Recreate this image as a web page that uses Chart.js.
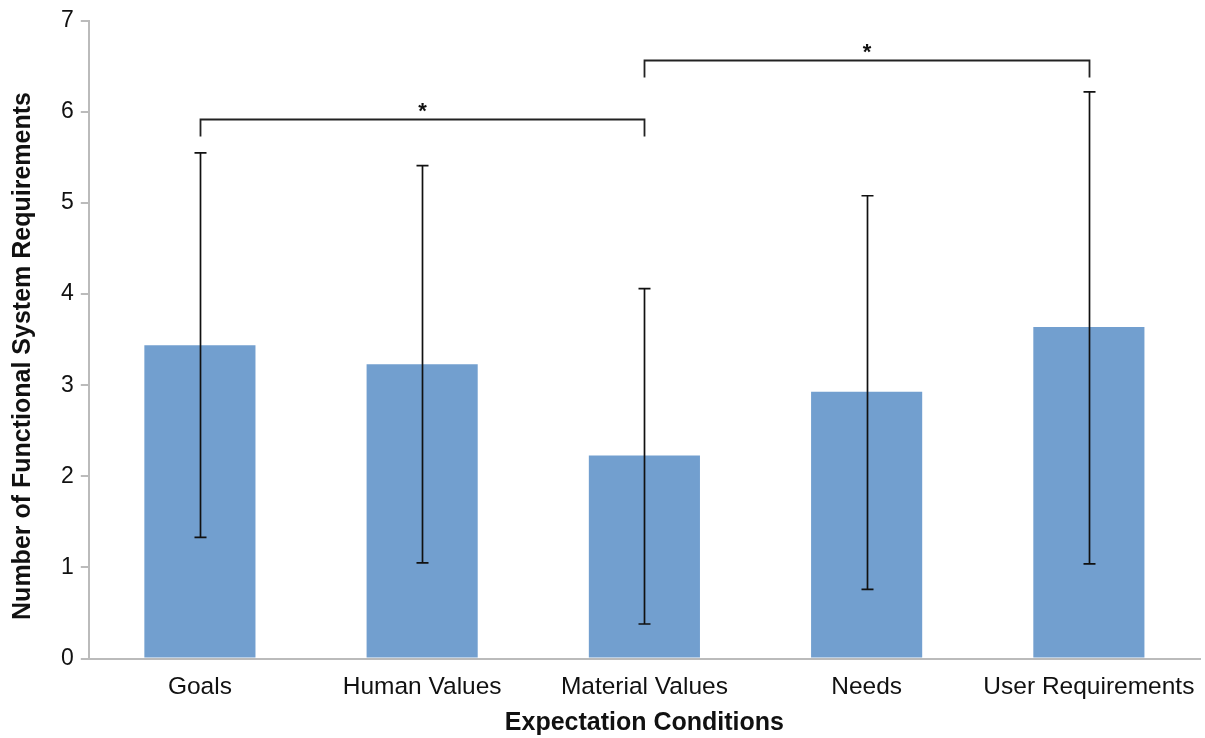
<!DOCTYPE html>
<html>
<head>
<meta charset="utf-8">
<script src="https://cdn.jsdelivr.net/npm/chart.js@4"></script>
<style>
  html, body { margin: 0; padding: 0; background: #fff; }
  #wrap { width: 1205px; height: 738px; }
</style>
</head>
<body>
<div id="wrap"><canvas id="myBarChart"></canvas></div>
<script>
// data
const categories = ['Goals', 'Human Values', 'Material Values', 'Needs', 'User Requirements'];
const means = [3.44, 3.23, 2.23, 2.93, 3.64];
const errHigh = [5.55, 5.41, 4.06, 5.08, 6.22];
const errLow = [1.33, 1.05, 0.38, 0.76, 1.04];
const yTicks = [0, 1, 2, 3, 4, 5, 6, 7];
// significance brackets: [from index, to index, height]
const brackets = [
    [0, 2, 5.92],
    [2, 4, 6.57]
];
const yTitle = 'Number of Functional System Requirements';

const FONT = 'Liberation Sans, Arial, sans-serif';

// error bars + brackets drawn on top of the bars
const errorBarsPlugin = {
    id: 'errorBars',
    afterDatasetsDraw(chart) {
        const { ctx, scales: { x, y } } = chart;
        ctx.save();
        ctx.strokeStyle = '#111';
        ctx.lineWidth = 1.7;
        means.forEach((m, i) => {
            const cx = Math.round(x.getPixelForValue(i)) + 0.5;
            const top = y.getPixelForValue(errHigh[i]);
            const bot = y.getPixelForValue(errLow[i]);
            ctx.beginPath();
            ctx.moveTo(cx, top);
            ctx.lineTo(cx, bot);
            ctx.moveTo(cx - 6, top);
            ctx.lineTo(cx + 6, top);
            ctx.moveTo(cx - 6, bot);
            ctx.lineTo(cx + 6, bot);
            ctx.stroke();
        });

        ctx.strokeStyle = '#222';
        ctx.lineWidth = 1.8;
        ctx.fillStyle = '#111';
        ctx.font = 'bold 22px ' + FONT;
        ctx.textAlign = 'center';
        ctx.textBaseline = 'middle';
        brackets.forEach(([a, b, h]) => {
            const x1 = Math.round(x.getPixelForValue(a)) + 0.5;
            const x2 = Math.round(x.getPixelForValue(b)) + 0.5;
            const yy = Math.round(y.getPixelForValue(h)) + 0.5;
            ctx.beginPath();
            ctx.moveTo(x1, yy + 17);
            ctx.lineTo(x1, yy);
            ctx.lineTo(x2, yy);
            ctx.lineTo(x2, yy + 17);
            ctx.stroke();
            ctx.fillText('*', (x1 + x2) / 2, yy - 8);
        });
        ctx.restore();
    },
    // y title sits a bit below the plot centre in the original
    afterDraw(chart) {
        const { ctx } = chart;
        ctx.save();
        ctx.translate(23, 356);
        ctx.rotate(-Math.PI / 2);
        ctx.fillStyle = '#111';
        ctx.font = 'bold 25px ' + FONT;
        ctx.textAlign = 'center';
        ctx.textBaseline = 'middle';
        ctx.fillText(yTitle, 0, 0);
        ctx.restore();
    }
};

const ctx = document.getElementById('myBarChart');
const myBarChart = new Chart(ctx, {
    type: 'bar',
    data: {
        labels: categories,
        datasets: [
            {
                data: means,
                backgroundColor: '#729fcf',
                barPercentage: 0.5,
                categoryPercentage: 1.0,
            }
        ]
    },
    options: {
        responsive: true,
        maintainAspectRatio: false,
        animation: false,
        layout: {
            padding: { left: 54, right: 5, top: 7, bottom: 0 }
        },
        scales: {
            x: {
                grid: { display: false },
                border: { display: true, color: '#bbbbbb', width: 2 },
                ticks: {
                    color: '#111',
                    font: { family: FONT, size: 24.5 },
                    maxRotation: 0,
                    padding: 6
                },
                title: {
                    display: true,
                    text: 'Expectation Conditions',
                    color: '#111',
                    font: { family: FONT, size: 25, weight: 'bold' },
                    padding: { top: 0, bottom: 0 }
                }
            },
            y: {
                min: 0,
                max: 7,
                afterBuildTicks(axis) {
                    axis.ticks = yTicks.map(v => ({ value: v }));
                },
                grid: {
                    display: true,
                    drawOnChartArea: false,
                    drawTicks: true,
                    tickLength: 8,
                    color: '#bbbbbb',
                    lineWidth: 2
                },
                border: { display: true, color: '#bbbbbb', width: 2 },
                ticks: {
                    color: '#111',
                    font: { family: FONT, size: 23 },
                    padding: 7
                },
                title: { display: false }
            }
        },
        plugins: {
            legend: { display: false },
            tooltip: { enabled: false }
        }
    },
    plugins: [errorBarsPlugin]
});
</script>
</body>
</html>
